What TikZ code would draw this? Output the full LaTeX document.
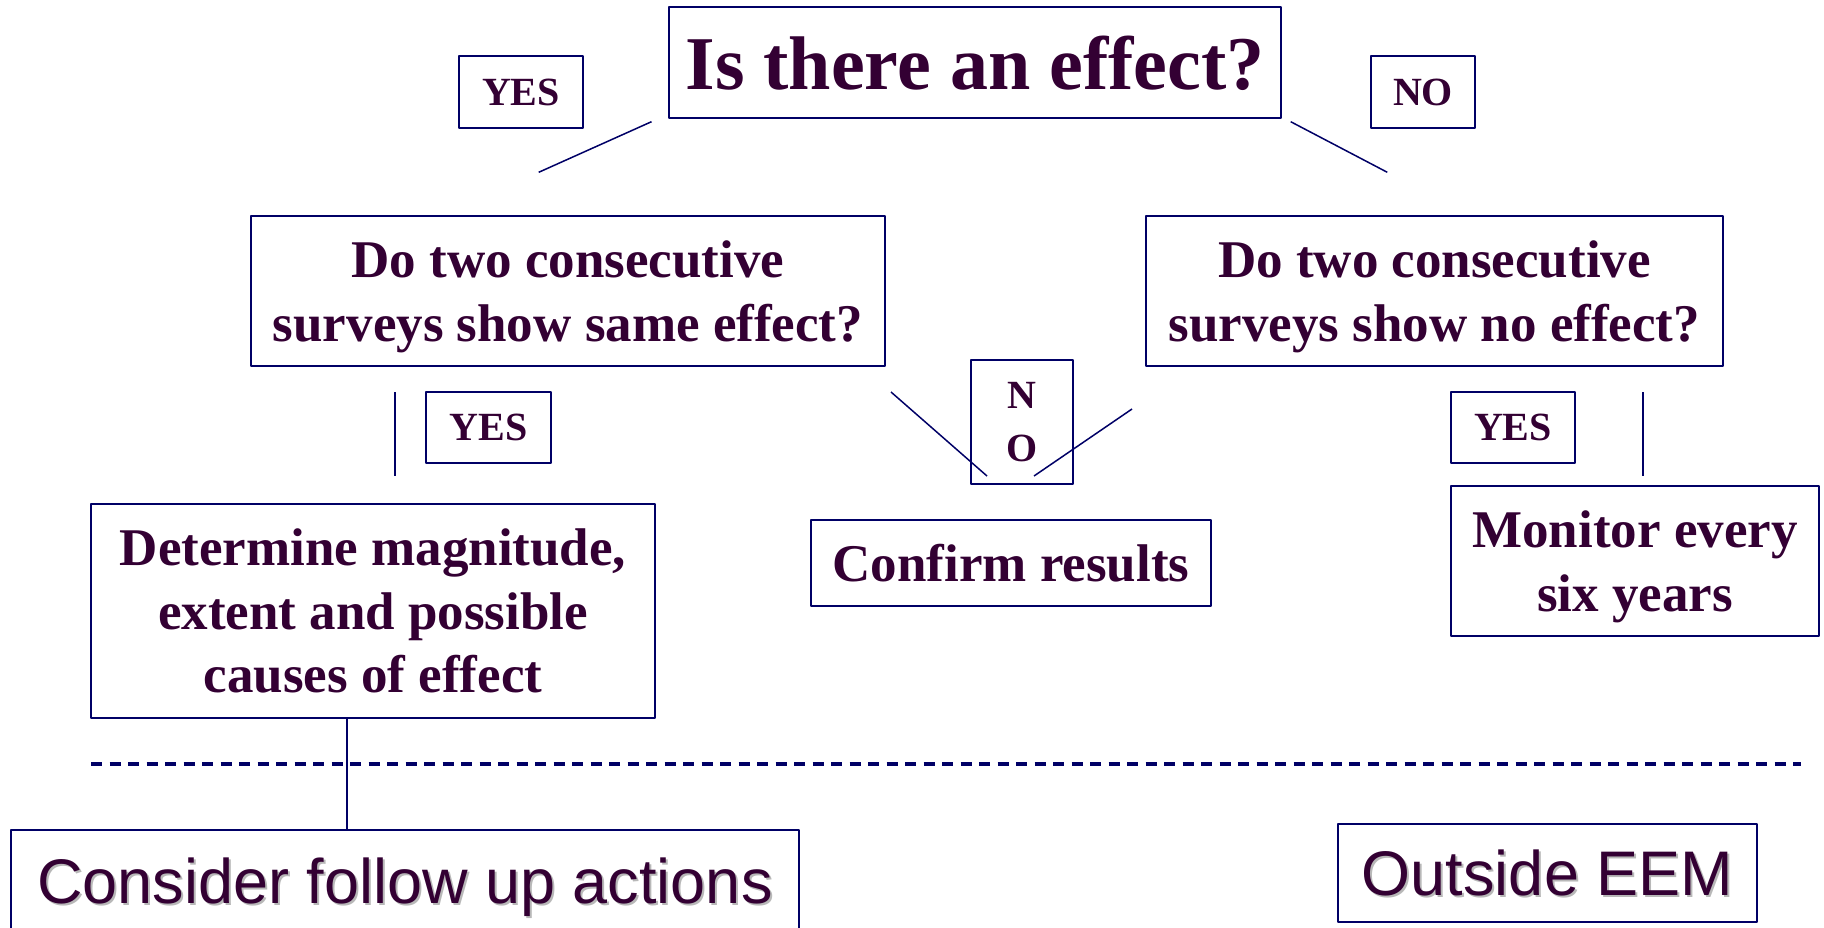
\documentclass[tikz,border=0pt]{standalone}
\usepackage{fontspec}
\setmainfont{Liberation Serif}
\setsansfont{Liberation Sans}
\definecolor{ink}{HTML}{330033}
\definecolor{linenavy}{HTML}{000066}
\definecolor{shadegray}{HTML}{B8B8B8}
% text with a soft grey drop shadow
\newcommand\shtext[1]{\leavevmode\rlap{\kern2pt\raisebox{-2pt}{\textcolor{shadegray}{#1}}}#1}
\begin{document}
\begin{tikzpicture}[x=1pt,y=-1pt, line join=round,
    box/.style={draw=linenavy, line width=2pt, text=ink, inner sep=0pt, align=center},
    ask/.style={box, font=\bfseries\fontsize{53}{63.5}\selectfont, text depth=0pt},
    ans/.style={box, font=\bfseries\fontsize{40}{53}\selectfont, text depth=0pt},
    outbox/.style={box, font=\sffamily\fontsize{63}{70}\selectfont},
    link/.style={draw=linenavy, line width=1.5pt}]
    \def\W{1824} \def\H{927}
    \path[use as bounding box] (0,0) rectangle (\W,\H);
    \clip (0,0) rectangle (\W,\H);

    % question boxes
    \node[box, font=\bfseries\fontsize{76}{80}\selectfont, text depth=0pt,
          minimum width=612, minimum height=111] (effect) at (975,62.5) {Is there an effect?};
    \node[ask, minimum width=634, minimum height=150] (same) at (568,291)
        {Do two consecutive\\surveys show same effect?};
    \node[ask, minimum width=577, minimum height=150] (none) at (1434.5,291)
        {Do two consecutive\\surveys show no effect?};

    % answers
    \node[ans, minimum width=124, minimum height=72] (yesA) at (521,92) {YES};
    \node[ans, minimum width=104, minimum height=72] (noA) at (1423,92) {NO};
    \node[ans, minimum width=125, minimum height=71] (yesB) at (488.5,427.5) {YES};
    \node[ans, minimum width=102, minimum height=124] (noB) at (1022,422) {N\\O};
    \node[ans, minimum width=124, minimum height=71] (yesC) at (1513,427.5) {YES};

    % outcomes
    \node[ask, minimum width=564, minimum height=214] (magnitude) at (373,611)
        {Determine magnitude,\\extent and possible\\causes of effect};
    \node[ask, minimum width=400, minimum height=86] (confirm) at (1011,563) {Confirm results};
    \node[ask, minimum width=368, minimum height=150] (monitor) at (1635,561)
        {Monitor every\\six years};
    \node[outbox, text height=47pt, text depth=15pt, minimum width=788, minimum height=115]
        (followup) at (405,887.5) {\shtext{Consider follow up actions}};
    \node[outbox, text depth=0pt, minimum width=419, minimum height=98]
        (outside) at (1547.5,873) {\shtext{Outside EEM}};

    % branch strokes
    \coordinate (ya) at (651.5,121.7); \coordinate (yb) at (538.7,172.3);
    \coordinate (na) at (1290.7,121.7); \coordinate (nb) at (1387.3,172.3);
    \coordinate (sa) at (395,392); \coordinate (sb) at (395,476);
    \coordinate (da) at (891,392); \coordinate (db) at (987,476);
    \coordinate (ea) at (1132,409); \coordinate (eb) at (1034,476);
    \coordinate (ma) at (1643,392); \coordinate (mb) at (1643,476);
    \draw[link] (ya)--(yb);
    \draw[link] (na)--(nb);
    \draw[link] (sa)--(sb);
    \draw[link] (da)--(db);
    \draw[link] (ea)--(eb);
    \draw[link] (ma)--(mb);

    % EEM border
    \coordinate (ba) at (91,764); \coordinate (bb) at (1801,764);
    \draw[linenavy, line width=4pt, dash pattern=on 11pt off 7.5pt] (ba)--(bb);
    \draw[link] (magnitude.south -| 347,0) -- (followup.north -| 347,0);
\end{tikzpicture}
\end{document}
